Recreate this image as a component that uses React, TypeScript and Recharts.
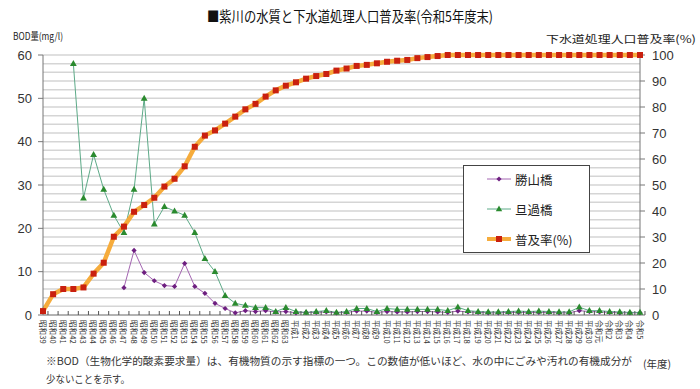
import React from 'react';
import { ComposedChart, Line, XAxis, YAxis, ReferenceLine, Legend } from 'recharts';

const CATEGORIES = [
  '昭和39', '昭和40', '昭和41', '昭和42', '昭和43', '昭和44', '昭和45', '昭和46', '昭和47', '昭和48',
  '昭和49', '昭和50', '昭和51', '昭和52', '昭和53', '昭和54', '昭和55', '昭和56', '昭和57', '昭和58',
  '昭和59', '昭和60', '昭和61', '昭和62', '昭和63',
  '平成1', '平成2', '平成3', '平成4', '平成5', '平成6', '平成7', '平成8', '平成9', '平成10',
  '平成11', '平成12', '平成13', '平成14', '平成15', '平成16', '平成17', '平成18', '平成19', '平成20',
  '平成21', '平成22', '平成23', '平成24', '平成25', '平成26', '平成27', '平成28', '平成29', '平成30',
  '令和元', '令和2', '令和3', '令和4', '令和5',
];

// 勝山橋 BOD (mg/l)
const KATSUYAMA: (number | null)[] = [
  null, null, null, null, null, null, null, null, 6.3, 14.9,
  9.8, 7.9, 6.8, 6.6, 11.9, 6.6, 5.0, 2.7, 1.5, 0.5,
  1.0, 0.8, 1.0, 0.7, 0.8,
  0.5, 0.6, 0.6, 0.7, 0.5, 0.6, 0.9, 0.9, 0.6, 0.8,
  0.7, 0.7, 0.8, 0.8, 0.7, 0.6, 0.9, 0.7, 0.6, 0.5,
  0.5, 0.6, 0.6, 0.6, 0.6, 0.6, 0.5, 0.5, 1.0, 0.8,
  0.7, 0.6, 0.5, 0.5, 0.5,
];

// 旦過橋 BOD (mg/l)
const TANGA: (number | null)[] = [
  null, null, null, 58, 27, 37, 29, 23, 19, 29,
  50, 21, 25, 24, 23, 19, 13, 10, 4.5, 2.7,
  2.2, 1.7, 1.7, 0.8, 1.7,
  0.8, 0.6, 0.8, 1.0, 0.6, 0.8, 1.5, 1.5, 0.8, 1.5,
  1.3, 1.3, 1.3, 1.3, 1.3, 1.0, 1.8, 1.0, 0.8, 0.7,
  0.7, 0.8, 0.9, 0.8, 0.9, 0.8, 0.7, 0.7, 1.8, 1.0,
  1.0, 0.8, 0.7, 0.6, 0.6,
];

// 普及率 (%)
const RATE: number[] = [
  1.5, 8.0, 10.0, 10.0, 10.6, 15.9, 20.1, 30.1, 34.0, 39.7,
  42.3, 45.1, 49.4, 52.4, 57.2, 64.7, 69.0, 71.0, 73.6, 76.3,
  79.1, 81.2, 84.0, 86.4, 88.2,
  89.5, 90.9, 91.9, 92.7, 94.0, 94.8, 95.8, 96.2, 96.8, 97.4,
  97.8, 98.1, 98.8, 99.2, 99.6, 100, 100, 100, 100, 100,
  100, 100, 100, 100, 100, 100, 100, 100, 100, 100,
  100, 100, 100, 100, 100,
];

const LEFT_TICKS = [0, 10, 20, 30, 40, 50, 60];
const RIGHT_TICKS = [0, 10, 20, 30, 40, 50, 60, 70, 80, 90, 100];
const GRID_VALUES = [2, 4, 6, 8, 10, 12, 14, 16, 18, 20, 22, 24, 26, 28, 30, 32, 34, 36, 38, 40, 42, 44, 46, 48, 50, 52, 54, 56, 58, 60];

const SERIES_NAMES = ['勝山橋', '旦過橋', '普及率(%)'];

const data = CATEGORIES.map((c, i) => ({
  cat: c,
  katsuyama: KATSUYAMA[i],
  tanga: TANGA[i],
  rate: RATE[i],
}));

const W = 700;
const H = 389;
const LEFT_W = 43;
const RIGHT_W = 60;
const TOP = 55;
const XAXIS_H = 74;
const PLOT_W = W - LEFT_W - RIGHT_W;
const BAND = PLOT_W / CATEGORIES.length;

const JP = '"Noto Sans CJK JP", "Noto Sans", sans-serif';
const NUM = '"Liberation Sans", Arial, sans-serif';

const PURPLE_LINE = '#A466B2';
const PURPLE_DOT = '#6E1F80';
const GREEN_LINE = '#5DAA88';
const GREEN_DOT = '#2A8A2E';
const ORANGE_LINE = '#F6AC3C';
const RED_DOT = '#C9200F';

const SquareDot = (props: any) => {
  const { cx, cy } = props;
  if (cx == null || cy == null) return <g />;
  return <rect x={cx - 3} y={cy - 3} width={6} height={6} fill={RED_DOT} />;
};

const TriangleDot = (props: any) => {
  const { cx, cy } = props;
  if (cx == null || cy == null) return <g />;
  return <polygon points={`${cx},${cy - 3.6} ${cx - 3.4},${cy + 2.4} ${cx + 3.4},${cy + 2.4}`} fill={GREEN_DOT} />;
};

const DiamondDot = (props: any) => {
  const { cx, cy } = props;
  if (cx == null || cy == null) return <g />;
  return <polygon points={`${cx},${cy - 2.6} ${cx + 2.6},${cy} ${cx},${cy + 2.6} ${cx - 2.6},${cy}`} fill={PURPLE_DOT} />;
};

const XTick = (props: any) => {
  const { x, y, payload } = props;
  return (
    <g transform={`translate(${x},${y})`}>
      <line x1={BAND / 2} x2={BAND / 2} y1={-4} y2={0} stroke="#555" strokeWidth={1} />
      <text
        transform="rotate(90)"
        x={5}
        y={0}
        dominantBaseline="central"
        textAnchor="start"
        fontSize={7.6}
        fontFamily={JP}
        fill="#333"
      >
        {payload.value}
      </text>
    </g>
  );
};

const LegendContent = () => {
  const rows = [
    { name: SERIES_NAMES[0], color: PURPLE_LINE, width: 1, dot: 'diamond' },
    { name: SERIES_NAMES[1], color: GREEN_LINE, width: 1, dot: 'triangle' },
    { name: SERIES_NAMES[2], color: ORANGE_LINE, width: 4, dot: 'square' },
  ];
  return (
    <div style={{ width: 127, height: 88, border: '1px solid #444', background: '#fff', boxSizing: 'border-box' }}>
      <svg width={125} height={86} style={{ display: 'block' }}>
        {rows.map((r, i) => {
          const cy = 13 + i * 30;
          const cx = 35;
          return (
            <g key={r.name}>
              <line x1={23} x2={47} y1={cy} y2={cy} stroke={r.color} strokeWidth={r.width} />
              {r.dot === 'diamond' && (
                <polygon points={`${cx},${cy - 2.6} ${cx + 2.6},${cy} ${cx},${cy + 2.6} ${cx - 2.6},${cy}`} fill={PURPLE_DOT} />
              )}
              {r.dot === 'triangle' && (
                <polygon points={`${cx},${cy - 3.4} ${cx - 3.2},${cy + 2.2} ${cx + 3.2},${cy + 2.2}`} fill={GREEN_DOT} />
              )}
              {r.dot === 'square' && <rect x={cx - 3} y={cy - 3} width={6} height={6} fill={RED_DOT} />}
              <text x={51} y={cy} dominantBaseline="central" fontSize={12.5} fontFamily={JP} fill="#222">
                {r.name}
              </text>
            </g>
          );
        })}
      </svg>
    </div>
  );
};

export default function App() {
  return (
    <div style={{ position: 'absolute', left: 0, top: 0, width: W, height: H, background: '#fff' }}>
      <ComposedChart width={W} height={H} data={data} margin={{ top: TOP, right: 0, bottom: 0, left: 0 }}>
        <XAxis
          dataKey="cat"
          interval={0}
          height={XAXIS_H}
          tickLine={false}
          tickSize={0}
          tickMargin={0}
          tick={<XTick />}
          axisLine={{ stroke: '#666', strokeWidth: 1 }}
        />
        <YAxis
          yAxisId="left"
          domain={[0, 60]}
          ticks={LEFT_TICKS}
          width={LEFT_W}
          tickSize={5}
          tickMargin={6}
          tickLine={{ stroke: '#777' }}
          axisLine={{ stroke: '#777' }}
          tick={{ fontSize: 13, fill: '#333', fontFamily: NUM }}
        />
        <YAxis
          yAxisId="right"
          orientation="right"
          domain={[0, 100]}
          ticks={RIGHT_TICKS}
          width={RIGHT_W}
          tickSize={5}
          tickMargin={7}
          tickLine={{ stroke: '#777' }}
          axisLine={{ stroke: '#777' }}
          tick={{ fontSize: 13, fill: '#333', fontFamily: NUM }}
        />
        {GRID_VALUES.map((v) => (
          <ReferenceLine key={v} yAxisId="left" y={v} stroke="#D5D5D5" strokeWidth={1.5} ifOverflow="visible" />
        ))}
        <Legend
          layout="vertical"
          align="center"
          verticalAlign="middle"
          content={<LegendContent />}
          wrapperStyle={{ left: 463, top: 165, width: 127, height: 88 }}
        />
        <Line
          yAxisId="left"
          dataKey="katsuyama"
          name={SERIES_NAMES[0]}
          stroke={PURPLE_LINE}
          strokeWidth={1}
          dot={<DiamondDot />}
          activeDot={false}
          connectNulls={false}
          isAnimationActive={false}
        />
        <Line
          yAxisId="left"
          dataKey="tanga"
          name={SERIES_NAMES[1]}
          stroke={GREEN_LINE}
          strokeWidth={1}
          dot={<TriangleDot />}
          activeDot={false}
          connectNulls={false}
          isAnimationActive={false}
        />
        <Line
          yAxisId="right"
          dataKey="rate"
          name={SERIES_NAMES[2]}
          stroke={ORANGE_LINE}
          strokeWidth={4.5}
          dot={<SquareDot />}
          activeDot={false}
          isAnimationActive={false}
        />
      </ComposedChart>
      <svg
        width={W}
        height={H}
        style={{ position: 'absolute', left: 0, top: 0, pointerEvents: 'none' }}
      >
        <text x={207} y={22} fontSize={14.5} fontFamily={JP} fill="#111" textLength={286} lengthAdjust="spacingAndGlyphs">
          ■紫川の水質と下水道処理人口普及率(令和5年度末)
        </text>
        <text x={13} y={40} fontSize={10} fontFamily={JP} fill="#222" textLength={50} lengthAdjust="spacingAndGlyphs">
          BOD量(mg/l)
        </text>
        <text x={546} y={43} fontSize={10.5} fontFamily={JP} fill="#222" textLength={150} lengthAdjust="spacingAndGlyphs">
          下水道処理人口普及率(%)
        </text>
        <text x={46} y={365} fontSize={10.5} fontFamily={JP} fill="#333" textLength={586} lengthAdjust="spacingAndGlyphs">
          ※BOD（生物化学的酸素要求量）は、有機物質の示す指標の一つ。この数値が低いほど、水の中にごみや汚れの有機成分が
        </text>
        <text x={46} y={383} fontSize={10.5} fontFamily={JP} fill="#333" textLength={84} lengthAdjust="spacingAndGlyphs">
          少ないことを示す。
        </text>
        <text x={643} y={368} fontSize={10.5} fontFamily={JP} fill="#333">
          (年度)
        </text>
      </svg>
    </div>
  );
}
